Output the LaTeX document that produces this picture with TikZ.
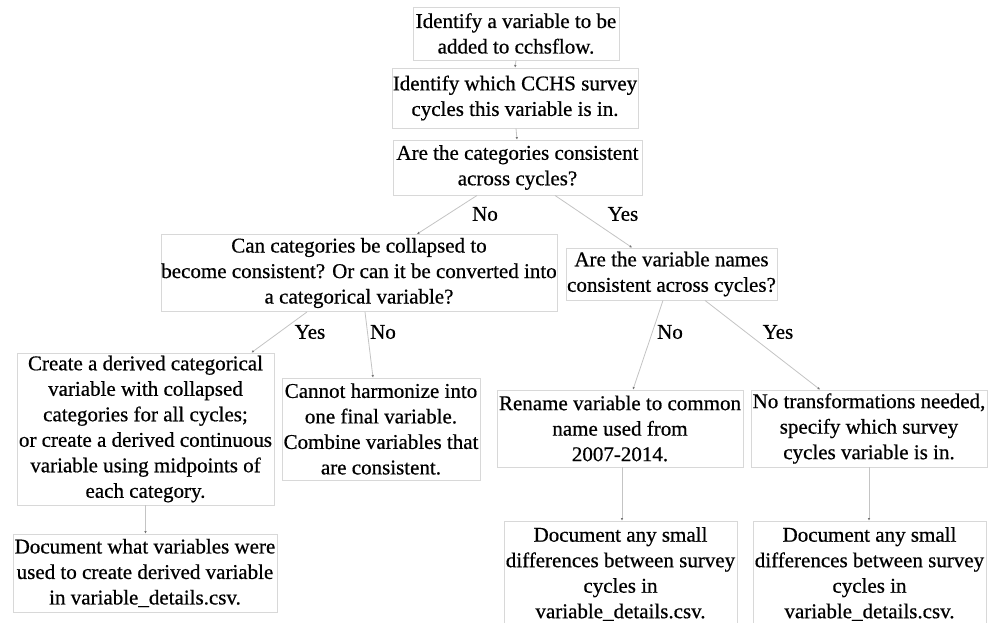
\documentclass[tikz,border=0pt]{standalone}
\usepackage{fontspec}
\setmainfont{Liberation Serif}[UprightFeatures={FakeBold=0.6}]
\usetikzlibrary{arrows.meta}
\definecolor{boxgray}{HTML}{D8D8D8}
\definecolor{linegray}{HTML}{C4C4C4}
\begin{document}
\begin{tikzpicture}[x=1pt,y=-1pt,
  box/.style={draw=boxgray, line width=0.9pt, fill=white, inner sep=0pt, align=center,
    font=\fontsize{21}{25.5}\selectfont},
  lbl/.style={inner sep=0pt, font=\fontsize{21}{25.5}\selectfont},
  conn/.style={draw=linegray, line width=0.8pt, -{Latex[length=2.5pt,width=2.5pt,color=black!55]}}]
\useasboundingbox[fill=white] (0,0) rectangle (998,622);
\node[box, minimum width=206pt, minimum height=53pt] (b1) at (516,33.5)
  {Identify a variable to be\\added to cchsflow.};
\node[box, minimum width=246pt, minimum height=60pt] (b2) at (515,98)
  {Identify which CCHS survey\\cycles this variable is in.};
\node[box, minimum width=249pt, minimum height=55pt] (b3) at (517.5,167.5)
  {Are the categories consistent\\across cycles?};
\node[box, minimum width=396pt, minimum height=77pt] (b4) at (359,273)
  {Can categories be collapsed to\\become consistent? Or can it be converted into\\a categorical variable?};
\node[box, minimum width=211pt, minimum height=52pt] (b5) at (671.5,274)
  {Are the variable names\\consistent across cycles?};
\node[box, minimum width=257pt, minimum height=152pt] (b6) at (145.5,429)
  {Create a derived categorical\\variable with collapsed\\categories for all cycles;\\or create a derived continuous\\variable using midpoints of\\each category.};
\node[box, minimum width=198pt, minimum height=102pt] (b7) at (381,429)
  {Cannot harmonize into\\one final variable.\\Combine variables that\\are consistent.};
\node[box, minimum width=246pt, minimum height=77pt] (b8) at (620,428.5)
  {Rename variable to common\\name used from\\2007-2014.};
\node[box, minimum width=236pt, minimum height=77pt] (b9) at (869,428.5)
  {No transformations needed,\\specify which survey\\cycles variable is in.};
\node[box, minimum width=264pt, minimum height=78pt] (b10) at (145,573)
  {Document what variables were\\used to create derived variable\\in variable\_details.csv.};
\node[box, minimum width=233pt, minimum height=106pt] (b11) at (620.5,574)
  {Document any small\\differences between survey\\cycles in\\variable\_details.csv.};
\node[box, minimum width=233pt, minimum height=106pt] (b12) at (869.5,574)
  {Document any small\\differences between survey\\cycles in\\variable\_details.csv.};
% labels
\node[lbl] (l1) at (485,214) {No};
\node[lbl] (l2) at (623,214) {Yes};
\node[lbl] (l3) at (310,332) {Yes};
\node[lbl] (l4) at (383,332) {No};
\node[lbl] (l5) at (670,332) {No};
\node[lbl] (l6) at (778,332) {Yes};
% connectors
\draw[conn] (b1.south) -- (b2.north);
\draw[conn] ([xshift=1pt]b2.south) -- ([xshift=-0.5pt]b3.north);
\draw[conn] ([xshift=-40.5pt]b3.south) -- ([xshift=58pt]b4.north);
\draw[conn] ([xshift=37.5pt]b3.south) -- ([xshift=-39.5pt]b5.north);
\draw[conn] ([xshift=-52pt]b4.south) -- ([xshift=106pt]b6.north);
\draw[conn] ([xshift=6pt]b4.south) -- ([xshift=-8pt]b7.north);
\draw[conn] ([xshift=-8.5pt]b5.south) -- ([xshift=13pt]b8.north);
\draw[conn] ([xshift=33.5pt]b5.south) -- ([xshift=-49pt]b9.north);
\draw[conn] (b6.south) -- (b6.south |- b10.north);
\draw[conn] ([xshift=2pt]b8.south) -- ([xshift=2pt]b8.south |- b11.north);
\draw[conn] (b9.south) -- (b9.south |- b12.north);
\end{tikzpicture}
\end{document}
